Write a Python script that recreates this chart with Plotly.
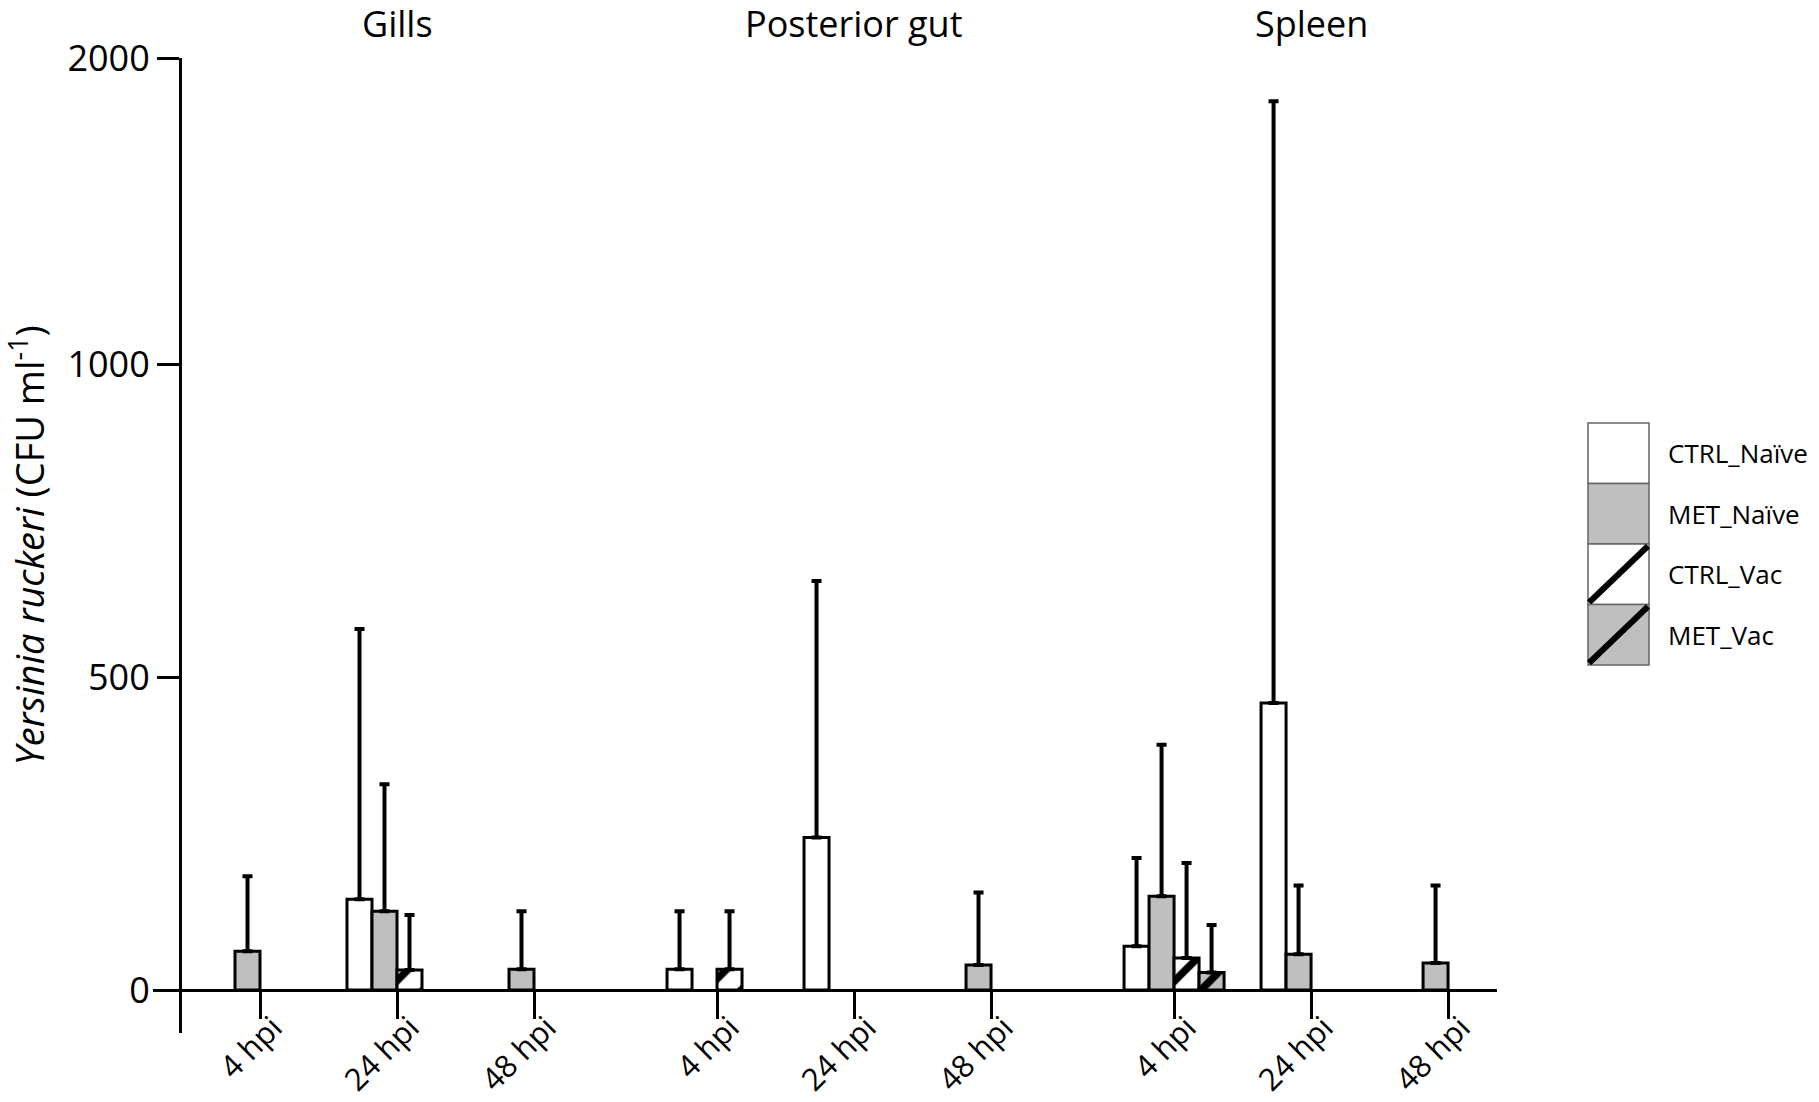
import plotly.graph_objects as go

# ---------------- data ----------------
organs = ["Gills", "Posterior gut", "Spleen"]
times = ["4 hpi", "24 hpi", "48 hpi"]
series = ["CTRL_Naïve", "MET_Naïve", "CTRL_Vac", "MET_Vac"]

# means, ordered Gills 4/24/48, Gut 4/24/48, Spleen 4/24/48
ctrl_naive = [0, 145, 0, 33, 244, 0, 70, 459, 0]
met_naive = [62, 126, 33, 0, 0, 40, 150, 57, 43]
ctrl_vac = [0, 32, 0, 33, 0, 0, 51, 0, 0]
met_vac = [0, 0, 0, 0, 0, 0, 28, 0, 0]

# upper SD (error bar length)
ctrl_naive_sd = [0, 432, 0, 93, 410, 0, 141, 1400, 0]
met_naive_sd = [120, 203, 93, 0, 0, 116, 242, 110, 124]
ctrl_vac_sd = [0, 88, 0, 93, 0, 0, 152, 0, 0]
met_vac_sd = [0, 0, 0, 0, 0, 0, 76, 0, 0]

y_tick_values = [0, 500, 1000, 2000]

# ---------------- axis break (scale compressed above 1000) ----------------
BREAK = 1000
UPPER_SCALE = 0.49


def T(v):
    return v if v <= BREAK else BREAK + (v - BREAK) * UPPER_SCALE


ORGAN_GAP = 0.336
centers = [o * (len(times) + ORGAN_GAP) + t for o in range(len(organs)) for t in range(len(times))]

GRAY = "#bfbfbf"
styles = [
    dict(color="white", pattern=None),
    dict(color=GRAY, pattern=None),
    dict(color="white", pattern="/"),
    dict(color=GRAY, pattern="/"),
]
means = [ctrl_naive, met_naive, ctrl_vac, met_vac]
sds = [ctrl_naive_sd, met_naive_sd, ctrl_vac_sd, met_vac_sd]

fig = go.Figure()
for name, m, s, st in zip(series, means, sds, styles):
    # zero-height bars are not drawn (they coincide with the axis line)
    yt = [T(v) if v else None for v in m]
    plus = [(T(v + e) - T(v)) if e else None for v, e in zip(m, s)]
    marker = dict(color=st["color"], line=dict(color="black", width=3))
    if st["pattern"]:
        marker["pattern"] = dict(shape="/", fgcolor="#000000", bgcolor=st["color"],
                                 fgopacity=1, size=25, solidity=0.3, fillmode="replace")
    fig.add_trace(go.Bar(
        x=centers, y=yt, name=name, marker=marker, showlegend=False,
        error_y=dict(type="data", symmetric=False, array=plus,
                     arrayminus=[0] * len(m), color="black", thickness=4, width=5),
    ))

W, H = 1819, 1102
FONT = "Open Sans"

# layout geometry in pixels
x_left, x_right = 153, 1497
y_top, y_bottom = 58, 1033
y_zero_px = 990
yaxis_px = 180
first_center_px, group_px = 260, 137

ymax = T(2000)
frac0 = (y_bottom - y_zero_px) / (y_bottom - y_top)
ymin = -frac0 / (1 - frac0) * ymax

fig.update_layout(
    width=W, height=H,
    margin=dict(l=0, r=0, t=0, b=0),
    paper_bgcolor="white", plot_bgcolor="white",
    barmode="group", bargap=0.27, bargroupgap=0,
    font=dict(family=FONT, color="black"),
    xaxis=dict(
        domain=[x_left / W, x_right / W],
        range=[(x_left - first_center_px) / group_px, (x_right - first_center_px) / group_px],
        anchor="free", position=1 - y_zero_px / H,
        tickmode="array", tickvals=centers, ticktext=times * len(organs),
        tickangle=-45, tickfont=dict(size=31),
        ticklabelstandoff=-22, ticklabelshift=13,
        showline=True, linecolor="black", linewidth=3,
        ticks="outside", ticklen=27, tickwidth=3, tickcolor="black",
        showgrid=False, zeroline=False, automargin=False,
    ),
    yaxis=dict(
        domain=[1 - y_bottom / H, 1 - y_top / H],
        range=[ymin, ymax],
        anchor="free", position=yaxis_px / W,
        tickmode="array", tickvals=[T(v) for v in y_tick_values],
        ticktext=[str(v) for v in y_tick_values], tickfont=dict(size=36),
        showline=True, linecolor="black", linewidth=3,
        ticks="outside", ticklen=22, tickwidth=3, tickcolor="black",
        showgrid=False, zeroline=False, automargin=False,
        title=dict(text="<i>Yersinia ruckeri</i> (CFU ml<sup>-1</sup>)",
                   font=dict(size=38), standoff=20),
    ),
)

# organ titles
for o, organ in enumerate(organs):
    fig.add_annotation(x=centers[o * len(times) + 1], xref="x", y=1 - 23 / H, yref="paper",
                       text=organ, showarrow=False, font=dict(size=36, family=FONT),
                       xanchor="center", yanchor="middle")

# legend (drawn manually as boxes)
lx0, lx1 = 1588 / W, 1649 / W
box_h = 60.5
ly_top = 423
for i, (name, st) in enumerate(zip(series, styles)):
    top = ly_top + i * box_h
    bot = top + box_h
    fig.add_shape(type="rect", xref="paper", yref="paper",
                  x0=lx0, x1=lx1, y0=1 - bot / H, y1=1 - top / H,
                  fillcolor=st["color"], line=dict(color="#666666", width=1.5), layer="above")
    if st["pattern"]:
        fig.add_shape(type="line", xref="paper", yref="paper",
                      x0=lx0 + 1 / W, y0=1 - (bot - 2) / H, x1=lx1 - 1 / W, y1=1 - (top + 2) / H,
                      line=dict(color="black", width=6), layer="above")
    fig.add_annotation(x=1666 / W, y=1 - (top + box_h / 2) / H, xref="paper", yref="paper",
                       text=name, showarrow=False, xanchor="left", yanchor="middle",
                       font=dict(size=26, family=FONT))

fig.write_html(
    "out.html",
    config={"displayModeBar": False},
    post_script="document.body.style.margin='0';document.body.style.overflow='hidden';",
)
